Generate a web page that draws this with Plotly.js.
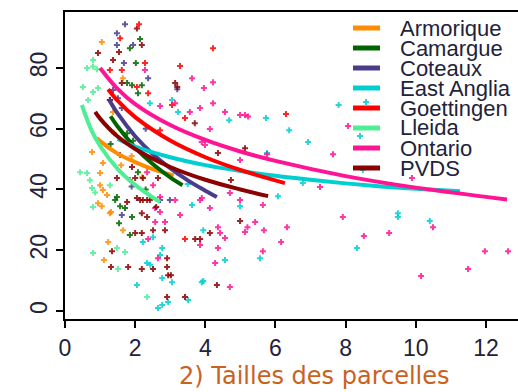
<!DOCTYPE html>
<html>
<head>
<meta charset="utf-8">
<script src="https://cdn.plot.ly/plotly-3.0.1.min.js"></script>
<style>
  html, body { margin: 0; padding: 0; background: #fff; overflow: hidden; width: 518px; height: 392px; }
  #chart { width: 540px; height: 392px; }
</style>
</head>
<body>
<div id="chart"></div>
<script>
// Region names and colours
const regions = ["Armorique", "Camargue", "Coteaux", "East Anglia", "Goettingen", "Lleida", "Ontario", "PVDS"];
const colors = ["#FF8C00", "#006400", "#483D8B", "#00CED1", "#FF0000", "#4EEE94", "#FF1493", "#8B0000"];

// Observed plots: field size (x) vs value (y)
const armoriqueX = [1.05, 1.65, 1.37, 0.77, 1.08, 1.0, 1.0, 1.08, 1.2, 0.94, 1.05, 1.31, 1.28, 1.65, 1.23, 1.11, 1.4, 1.9, 1.6, 2.2];
const armoriqueY = [88.5, 76.6, 65.5, 52.3, 48.7, 45.4, 41.4, 39.8, 38.2, 35.5, 34.5, 32.6, 32.2, 26.6, 22.7, 16.8, 58.5, 51.0, 48.0, 44.0];
const camargueX = [2.14, 1.85, 2.02, 1.77, 1.91, 2.19, 2.08, 2.08, 1.48, 1.43, 1.57, 1.71, 1.91, 1.54, 1.85, 1.77, 1.94, 1.3, 2.3];
const camargueY = [89.5, 86.5, 81.6, 75.0, 74.3, 74.3, 71.7, 45.7, 37.5, 36.5, 34.5, 33.9, 30.9, 28.9, 25.0, 58.5, 56.0, 55.0, 40.0];
const coteauxX = [1.71, 1.48, 1.48, 1.94, 1.68, 2.37, 1.37, 1.51, 1.28, 1.62, 1.57, 2.71, 2.99, 1.62, 1.9, 3.2, 2.3];
const coteauxY = [94.4, 91.4, 87.5, 87.5, 81.6, 76.6, 72.7, 70.0, 69.4, 66.8, 51.3, 36.5, 36.5, 31.6, 41.0, 73.0, 60.0];
const eastAngliaX = [2.42, 3.05, 3.22, 4.68, 5.73, 6.39, 5.76, 6.07, 3.62, 7.8, 8.58, 8.41, 6.93, 8.49, 6.78, 9.49, 9.49, 10.4, 8.32, 5.56,
  3.5, 2.22, 2.51, 2.77, 2.71, 3.94, 3.9, 2.34, 2.43, 2.77, 3.05, 2.05, 2.65, 2.77, 2.94, 3.51, 4.56, 4.99, 3.94];
const eastAngliaY = [68.4, 69.4, 65.5, 62.8, 63.5, 59.5, 52.0, 37.8, 34.9, 67.8, 68.8, 57.6, 55.6, 46.4, 42.1, 32.2, 30.9, 29.6, 20.7, 17.4,
  41.8, 22.7, 24.3, 20.7, 18.4, 26.6, 9.5, 15.8, 15.2, 10.9, 9.5, 8.6, 1.0, 2.0, 3.0, 3.6, 16.8, 34.5, 9.9];
const goettingenX = [2.11, 1.57, 2.28, 3.28, 4.22, 1.28, 1.62, 2.05, 2.37, 3.05, 3.42, 6.3, 3.19, 3.42, 2.71];
const goettingenY = [94.4, 89.8, 81.6, 80.6, 86.5, 79.3, 79.3, 73.7, 71.7, 67.8, 63.5, 64.8, 45.7, 23.7, 59.5];
const lleidaX = [0.8, 0.63, 0.8, 0.91, 0.51, 0.94, 0.8, 0.66, 0.43, 0.63, 0.71, 0.77, 0.86, 1.28, 0.8, 0.8, 1.48, 1.71, 1.51, 2.34];
const lleidaY = [82.6, 80.0, 80.5, 79.6, 73.7, 73.4, 72.1, 69.4, 45.7, 45.4, 43.0, 40.5, 39.0, 41.4, 34.2, 19.1, 20.7, 19.4, 13.8, 4.6];
const ontarioX = [2.28, 3.62, 4.22, 3.96, 4.22, 3.85, 3.56, 2.71, 3.14, 4.56, 4.99, 5.13, 5.22, 4.13, 3.9, 3.99, 4.99, 5.76, 7.64, 8.07,
  9.89, 7.27, 4.7, 3.9, 4.99, 4.13, 5.64, 7.92, 10.49, 6.33, 8.52, 9.24, 5.67, 6.16, 5.64, 11.97, 12.63, 11.49, 10.15, 1.85,
  2.34, 2.51, 2.71, 2.57, 2.71, 2.57, 2.85, 3.28, 3.14, 3.85, 2.37, 3.85, 4.36, 4.42, 4.56, 4.36, 4.28, 4.7, 5.2, 5.13, 5.42, 2.65];
const ontarioY = [79.3, 76.6, 75.3, 73.4, 68.4, 66.8, 65.5, 67.5, 68.4, 65.5, 64.5, 64.5, 64.0, 59.9, 55.6, 54.6, 49.7, 51.6, 51.6, 60.9,
  43.8, 40.8, 38.8, 37.2, 36.5, 33.9, 34.9, 30.9, 27.6, 27.6, 24.7, 25.7, 26.6, 22.7, 19.7, 19.7, 19.7, 13.8, 11.5, 43.1,
  45.7, 41.4, 37.5, 33.9, 32.6, 29.3, 29.3, 31.6, 36.5, 36.5, 23.7, 21.7, 27.6, 25.7, 24.0, 20.7, 15.8, 7.9, 27.6, 26.0, 29.3, 17.4];
const pvdsX = [2.05, 2.19, 0.94, 1.54, 1.37, 1.62, 3.14, 3.2, 1.28, 3.7, 4.36, 5.13, 4.73, 1.48, 1.91, 2.0, 2.22, 2.65, 2.05, 2.22,
  2.42, 1.77, 2.14, 2.34, 2.19, 2.34, 2.6, 2.51, 2.85, 2.0, 2.19, 3.71, 3.85, 4.13, 4.99, 1.34, 1.31, 1.8, 2.19, 2.51,
  2.91, 2.91, 2.94, 3.02, 2.91, 3.42, 4.33];
const pvdsY = [93.0, 87.5, 84.9, 85.2, 82.6, 75.0, 75.0, 73.7, 69.4, 61.8, 52.0, 53.6, 43.1, 43.8, 47.4, 43.8, 43.8, 43.8, 37.2, 36.5,
  36.5, 35.9, 36.5, 36.5, 32.2, 30.9, 34.2, 26.6, 26.6, 25.7, 25.7, 23.7, 23.7, 25.7, 29.6, 19.7, 14.5, 14.5, 13.8, 13.8,
  17.4, 14.5, 11.8, 11.8, 4.6, 4.6, 8.6];

// Fitted trend per region
const armoriqueFitX = [0.9, 1, 1.5, 2, 2.5, 3.1];
const armoriqueFitY = [57, 55.9, 51.8, 49, 46.7, 44.6];
const camargueFitX = [1.3, 1.5, 2, 2.5, 3, 3.35];
const camargueFitY = [64.1, 60.7, 53.8, 48.4, 44, 41.4];
const coteauxFitX = [1.25, 1.5, 2, 2.5, 3, 3.5, 4, 4.33];
const coteauxFitY = [69.7, 65, 57.5, 51.7, 47, 43, 39.6, 37.5];
const eastAngliaFitX = [1.5, 2, 3, 4, 5, 6, 7, 8, 9, 10, 11.26];
const eastAngliaFitY = [56.6, 54.1, 50.6, 48.0, 46.1, 44.5, 43.2, 42.0, 41.0, 40.2, 39.4];
const goettingenFitX = [1.23, 1.5, 2, 3, 4, 5, 6.27];
const goettingenFitY = [73, 69.2, 63.8, 56.1, 50.6, 46.4, 42.1];
const lleidaFitX = [0.48, 0.75, 1, 1.5, 2, 2.5, 2.71];
const lleidaFitY = [67.8, 59.6, 54.3, 46.8, 41.5, 37.4, 35.9];
const ontarioFitX = [1, 1.5, 2, 3, 4, 5, 6, 8, 10, 12.6];
const ontarioFitY = [80, 73.1, 68.1, 61.2, 56.3, 52.5, 49.4, 44.4, 40.6, 36.7];
const pvdsFitX = [0.86, 1, 1.5, 2, 3, 4, 5, 5.79];
const pvdsFitY = [65.5, 63.3, 57.4, 53.3, 47.4, 43.2, 40, 37.8];

const xTicks = [0, 2, 4, 6, 8, 10, 12];
const yTicks = [0, 20, 40, 60, 80];
const chartTitle = "2) Tailles des parcelles";

const pointsX = [armoriqueX, camargueX, coteauxX, eastAngliaX, goettingenX, lleidaX, ontarioX, pvdsX];
const pointsY = [armoriqueY, camargueY, coteauxY, eastAngliaY, goettingenY, lleidaY, ontarioY, pvdsY];
const fitX = [armoriqueFitX, camargueFitX, coteauxFitX, eastAngliaFitX, goettingenFitX, lleidaFitX, ontarioFitX, pvdsFitX];
const fitY = [armoriqueFitY, camargueFitY, coteauxFitY, eastAngliaFitY, goettingenFitY, lleidaFitY, ontarioFitY, pvdsFitY];

const traces = [];
regions.forEach((name, i) => {
  traces.push({
    type: "scatter", mode: "markers", name: name, showlegend: false,
    x: pointsX[i], y: pointsY[i],
    marker: { symbol: "cross", size: 5, color: colors[i], opacity: 0.85 },
    hoverinfo: "skip"
  });
});
regions.forEach((name, i) => {
  traces.push({
    type: "scatter", mode: "lines", name: name, showlegend: false,
    x: fitX[i], y: fitY[i],
    line: { color: colors[i], width: 4, shape: "spline" },
    hoverinfo: "skip"
  });
});

// Plot area in pixels: left 65, top 12, bottom 319, right 535
const W = 540, H = 392, L = 65, T = 12, B = 319, R = 535;
const px2paperX = p => (p - L) / (R - L);
const px2paperY = p => (B - p) / (B - T);

const shapes = [];
const annotations = [];
regions.forEach((name, i) => {
  const cy = 28 + 20 * i;
  shapes.push({
    type: "line", xref: "paper", yref: "paper",
    x0: px2paperX(353), x1: px2paperX(380), y0: px2paperY(cy), y1: px2paperY(cy),
    line: { color: colors[i], width: 5 }
  });
  annotations.push({
    xref: "paper", yref: "paper", x: px2paperX(399), y: px2paperY(cy),
    xanchor: "left", yanchor: "middle", showarrow: false, text: name, borderpad: 0,
    font: { family: "Liberation Sans, Arial, sans-serif", size: 22, color: "#22223a" }
  });
});
annotations.push({
  xref: "paper", yref: "paper", x: px2paperX(314), y: px2paperY(376),
  xanchor: "center", yanchor: "middle", showarrow: false, text: chartTitle, borderpad: 0,
  font: { family: "DejaVu Sans, sans-serif", size: 24, color: "#C8621E" }
});

const axisFont = { family: "Liberation Sans, Arial, sans-serif", size: 23, color: "#22223a" };

const layout = {
  width: W, height: H,
  margin: { l: L, t: T, r: W - R, b: H - B, pad: 0 },
  paper_bgcolor: "#ffffff", plot_bgcolor: "#ffffff",
  showlegend: false,
  xaxis: {
    range: [0, (R - L) / 35.08], tickvals: xTicks, ticktext: xTicks.map(String),
    showgrid: false, zeroline: false, showline: true, mirror: true,
    linecolor: "#000", linewidth: 2, ticks: "outside", ticklen: 7, tickwidth: 2, tickcolor: "#000",
    tickfont: axisFont
  },
  yaxis: {
    range: [-2.63, 98.4], tickvals: yTicks, ticktext: yTicks.map(String), tickangle: -90,
    showgrid: false, zeroline: false, showline: true, mirror: true,
    linecolor: "#000", linewidth: 2, ticks: "outside", ticklen: 7, tickwidth: 2, tickcolor: "#000",
    tickfont: axisFont
  },
  shapes: shapes,
  annotations: annotations
};

Plotly.newPlot("chart", traces, layout, { staticPlot: true, displayModeBar: false });
</script>
</body>
</html>
